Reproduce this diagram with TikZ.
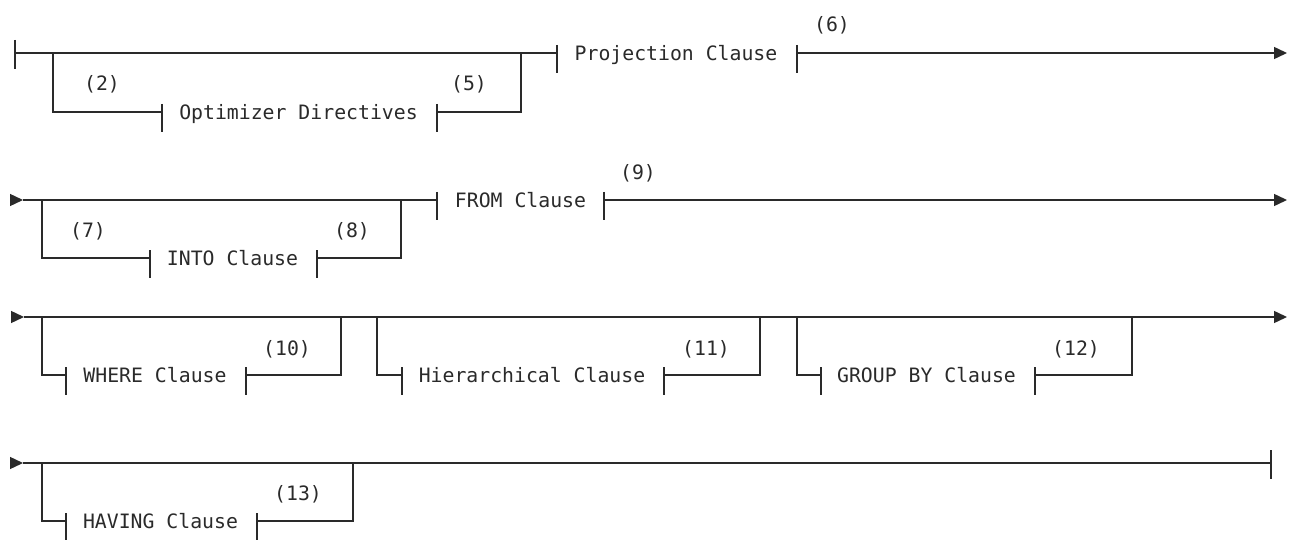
\documentclass[tikz,border=0pt]{standalone}
\usepackage{fontspec}
\setmonofont{DejaVu Sans Mono}
\usetikzlibrary{arrows.meta}
\definecolor{ink}{HTML}{2A2A2A}
\begin{document}
\begin{tikzpicture}[x=1pt,y=-1pt,
  rr/.style={draw=ink,line width=1.4pt},
  tip/.style={rr,-{Triangle[length=13pt,width=12pt]}},
  clause/.style={font=\ttfamily\fontsize{19.8}{24}\selectfont,text=ink,inner sep=0pt,anchor=base},
  lbl/.style={font=\ttfamily\fontsize{19.8}{24}\selectfont,text=ink,inner sep=0pt,anchor=base},
  cbar/.pic={\draw[rr] (0,-8) -- (0,20);},
  ebar/.pic={\draw[rr] (0,-13) -- (0,16);}
]
\useasboundingbox[fill=white] (0,0) rectangle (1292,540);

% ---------------- Row 1 ----------------
\coordinate (r1s) at (15,53);
\coordinate (r1a) at (53,53);   \coordinate (r1ab) at (53,112);
\coordinate (optL) at (162,112); \coordinate (optR) at (437,112);
\coordinate (r1bb) at (521,112); \coordinate (r1b) at (521,53);
\coordinate (projL) at (557,53); \coordinate (projR) at (797,53);
\coordinate (r1e) at (1287,53);
\draw[rr] (r1s) -- (projL);
\draw[rr] (r1a) -- (r1ab) -- (optL);
\draw[rr] (optR) -- (r1bb) -- (r1b);
\draw[tip] (projR) -- (r1e);
\pic at (r1s) {ebar};
\pic at (optL) {cbar}; \pic at (optR) {cbar};
\pic at (projL) {cbar}; \pic at (projR) {cbar};
\node[clause] (opt) at (298.5,119.2) {Optimizer Directives};
\node[clause] (proj) at (676,60.2) {Projection Clause};
\node[lbl] (l2) at (102,91) {(2)};
\node[lbl] (l5) at (469,91) {(5)};
\node[lbl] (l6) at (832,32) {(6)};

% ---------------- Row 2 ----------------
\coordinate (r2s) at (10,200); \coordinate (r2t) at (23,200);
\coordinate (r2a) at (42,200);  \coordinate (r2ab) at (42,258);
\coordinate (intoL) at (150,258); \coordinate (intoR) at (317,258);
\coordinate (r2bb) at (401,258); \coordinate (r2b) at (401,200);
\coordinate (fromL) at (437,200); \coordinate (fromR) at (604,200);
\coordinate (r2e) at (1287,200);
\draw[tip] (r2s) -- (r2t);
\draw[rr] (r2t) -- (fromL);
\draw[rr] (r2a) -- (r2ab) -- (intoL);
\draw[rr] (intoR) -- (r2bb) -- (r2b);
\draw[tip] (fromR) -- (r2e);
\pic at (intoL) {cbar}; \pic at (intoR) {cbar};
\pic at (fromL) {cbar}; \pic at (fromR) {cbar};
\node[clause] (into) at (232.5,265.2) {INTO Clause};
\node[clause] (from) at (520.5,207.2) {FROM Clause};
\node[lbl] (l7) at (88,237) {(7)};
\node[lbl] (l8) at (352,237) {(8)};
\node[lbl] (l9) at (638,179) {(9)};

% ---------------- Row 3 ----------------
\coordinate (r3s) at (11,317); \coordinate (r3t) at (24,317);
\coordinate (r3e) at (1287,317);
\coordinate (w1) at (42,317);   \coordinate (w1b) at (42,375);
\coordinate (whereL) at (66,375); \coordinate (whereR) at (246,375);
\coordinate (w2b) at (341,375); \coordinate (w2) at (341,317);
\coordinate (h1) at (377,317);  \coordinate (h1b) at (377,375);
\coordinate (hierL) at (402,375); \coordinate (hierR) at (664,375);
\coordinate (h2b) at (760,375); \coordinate (h2) at (760,317);
\coordinate (g1) at (797,317);  \coordinate (g1b) at (797,375);
\coordinate (grpL) at (821,375); \coordinate (grpR) at (1035,375);
\coordinate (g2b) at (1132,375); \coordinate (g2) at (1132,317);
\draw[tip] (r3s) -- (r3t);
\draw[tip] (r3t) -- (r3e);
\draw[rr] (w1) -- (w1b) -- (whereL);
\draw[rr] (whereR) -- (w2b) -- (w2);
\draw[rr] (h1) -- (h1b) -- (hierL);
\draw[rr] (hierR) -- (h2b) -- (h2);
\draw[rr] (g1) -- (g1b) -- (grpL);
\draw[rr] (grpR) -- (g2b) -- (g2);
\pic at (whereL) {cbar}; \pic at (whereR) {cbar};
\pic at (hierL) {cbar}; \pic at (hierR) {cbar};
\pic at (grpL) {cbar}; \pic at (grpR) {cbar};
\node[clause] (where) at (155,382.2) {WHERE Clause};
\node[clause] (hier) at (532,382.2) {Hierarchical Clause};
\node[clause] (group) at (926.5,382.2) {GROUP BY Clause};
\node[lbl] (l10) at (287,355) {(10)};
\node[lbl] (l11) at (706,355) {(11)};
\node[lbl] (l12) at (1076,355) {(12)};

% ---------------- Row 4 ----------------
\coordinate (r4s) at (10,463); \coordinate (r4t) at (23,463);
\coordinate (r4e) at (1271,463);
\coordinate (v1) at (42,463);  \coordinate (v1b) at (42,521);
\coordinate (havL) at (66,521); \coordinate (havR) at (257,521);
\coordinate (v2b) at (353,521); \coordinate (v2) at (353,463);
\draw[tip] (r4s) -- (r4t);
\draw[rr] (r4t) -- (r4e);
\draw[rr] (v1) -- (v1b) -- (havL);
\draw[rr] (havR) -- (v2b) -- (v2);
\pic at (havL) {cbar}; \pic at (havR) {cbar};
\pic at (r4e) {ebar};
\node[clause] (having) at (160.5,528.2) {HAVING Clause};
\node[lbl] (l13) at (298,500) {(13)};
\end{tikzpicture}
\end{document}
